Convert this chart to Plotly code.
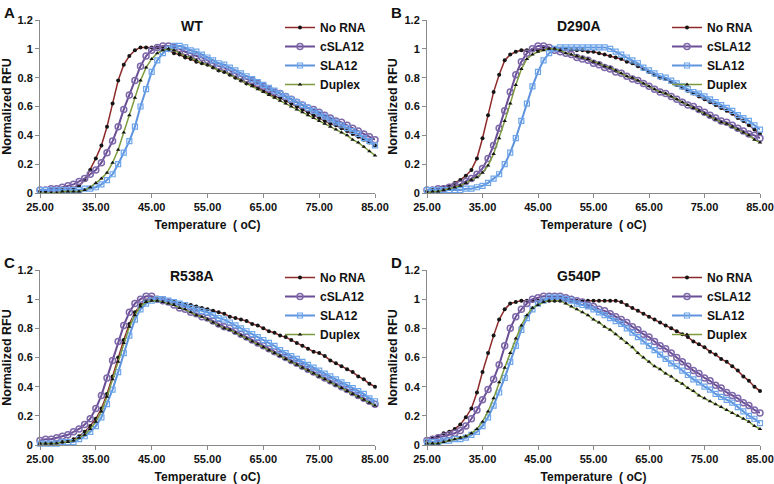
import plotly.graph_objects as go
from plotly.subplots import make_subplots

# temperature grid (oC), one reading per degree
temps = list(range(25, 86))

series_names = ["No RNA", "cSLA12", "SLA12", "Duplex"]
panel_titles = ["WT", "D290A", "R538A", "G540P"]
panel_letters = ["A", "B", "C", "D"]
x_ticks = [25, 35, 45, 55, 65, 75, 85]
y_ticks = [0, 0.2, 0.4, 0.6, 0.8, 1.0, 1.2]

# ---- panel A : WT ----
wt_norna = [.01, .01, .01, .02, .02, .02, .03, .05, .09, .16, .24, .33, .46, .62, .78, .89, .95, .99, 1.01, 1.01, 1.01, 1.01, 1.0, .99, .97, .96,
            .94, .93, .91, .90, .89, .87, .85, .84, .82, .80, .78, .76, .75, .73, .71, .69, .67, .66, .64, .62, .60, .58, .56, .54, .52, .50, .48, .47, .45, .43, .41, .39, .37, .35, .33]
wt_csla = [.02, .02, .03, .03, .04, .05, .06, .08, .10, .13, .16, .21, .28, .36, .46, .58, .68, .78, .88, .95, .99, 1.01, 1.02, 1.02, 1.01, 1.0,
           .98, .97, .95, .94, .92, .90, .88, .87, .85, .83, .81, .79, .78, .76, .74, .72, .70, .69, .67, .65, .63, .61, .59, .58, .56, .54, .52, .50, .49, .47, .45, .43, .41, .39, .37]
wt_sla = [.02, .02, .02, .02, .02, .02, .02, .02, .03, .03, .04, .06, .09, .13, .20, .28, .36, .46, .60, .72, .84, .92, .97, 1.0, 1.02, 1.02,
          1.01, .99, .98, .96, .94, .92, .90, .89, .87, .85, .83, .81, .79, .77, .75, .73, .71, .69, .67, .65, .63, .61, .59, .57, .55, .53, .51, .49, .47, .45, .43, .41, .38, .36, .33]
wt_duplex = [0, 0, 0, 0, .01, .01, .01, .01, .02, .04, .07, .10, .14, .21, .30, .42, .54, .66, .78, .87, .93, .97, .99, 1.0, .99, .97,
             .95, .94, .92, .90, .89, .87, .85, .84, .82, .80, .78, .76, .74, .72, .70, .68, .66, .64, .62, .60, .58, .56, .54, .52, .50, .48, .46, .44, .42, .40, .37, .35, .32, .29, .26]

# ---- panel B : D290A ----
d290_norna = [.01, .02, .03, .04, .05, .07, .09, .12, .16, .24, .38, .54, .70, .82, .92, .96, .98, .99, .99, .99, .99, 1.0, 1.0, 1.0, 1.0, 1.0,
              .99, .99, .99, .98, .98, .97, .96, .95, .94, .93, .91, .90, .88, .86, .84, .82, .80, .79, .77, .75, .73, .71, .69, .67, .65, .63, .61, .59, .57, .55, .52, .50, .47, .44, .41]
d290_csla = [.02, .02, .03, .03, .04, .05, .06, .08, .10, .13, .17, .24, .33, .45, .57, .70, .82, .91, .97, 1.0, 1.02, 1.02, 1.01, .99, .98, .97,
             .96, .94, .93, .92, .90, .89, .87, .86, .84, .83, .81, .79, .78, .76, .74, .72, .70, .69, .67, .65, .63, .61, .60, .58, .56, .54, .52, .50, .49, .47, .45, .43, .41, .40, .38]
d290_sla = [.02, .02, .02, .02, .02, .02, .02, .03, .03, .04, .05, .07, .10, .13, .20, .28, .38, .50, .62, .74, .84, .92, .97, 1.0, 1.01, 1.01,
            1.01, 1.01, 1.01, 1.01, 1.01, 1.01, 1.01, 1.0, .98, .96, .94, .92, .90, .87, .85, .83, .81, .80, .78, .76, .74, .72, .70, .69, .67, .65, .63, .61, .59, .57, .54, .52, .50, .47, .44]
d290_duplex = [0, .01, .01, .02, .03, .04, .05, .07, .09, .11, .14, .19, .27, .38, .50, .62, .75, .86, .93, .96, .98, .99, 1.0, 1.0, .99, .97,
               .96, .95, .94, .93, .91, .90, .88, .87, .85, .83, .81, .80, .78, .76, .74, .72, .70, .69, .67, .65, .63, .61, .59, .57, .55, .53, .51, .49, .48, .46, .44, .42, .40, .37, .35]

# ---- panel C : R538A ----
r538_norna = [.01, .01, .01, .02, .02, .03, .04, .06, .09, .13, .18, .25, .35, .47, .60, .72, .83, .91, .96, .99, 1.0, 1.0, .99, .99, .98, .97,
              .96, .96, .95, .94, .93, .92, .91, .90, .88, .87, .86, .85, .83, .82, .80, .78, .77, .75, .74, .72, .70, .68, .66, .64, .63, .61, .58, .56, .54, .52, .50, .47, .45, .42, .40]
r538_csla = [.03, .04, .04, .05, .06, .07, .09, .11, .14, .18, .25, .34, .46, .58, .71, .82, .91, .97, 1.0, 1.02, 1.02, 1.0, .99, .98, .96, .94,
             .93, .91, .90, .88, .87, .85, .83, .81, .80, .78, .76, .74, .72, .70, .68, .66, .64, .62, .60, .58, .56, .54, .52, .50, .48, .46, .44, .42, .40, .38, .36, .34, .32, .30, .28]
r538_sla = [.01, .01, .01, .01, .02, .02, .02, .04, .06, .09, .13, .19, .28, .38, .50, .63, .75, .86, .93, .97, .99, 1.0, 1.0, .99, .98, .97,
            .96, .94, .93, .92, .91, .89, .87, .86, .84, .82, .80, .78, .76, .74, .72, .70, .68, .65, .63, .61, .59, .57, .55, .53, .51, .49, .47, .45, .43, .41, .39, .37, .35, .32, .30]
r538_duplex = [.01, .01, .01, .01, .02, .02, .03, .05, .07, .11, .16, .23, .33, .45, .57, .70, .81, .89, .95, .98, .99, .99, .98, .97, .96, .94,
               .93, .91, .89, .88, .86, .84, .82, .80, .79, .77, .75, .73, .71, .69, .67, .65, .63, .61, .59, .57, .55, .53, .51, .49, .47, .45, .43, .41, .39, .37, .35, .33, .31, .29, .27]

# ---- panel D : G540P ----
g540_norna = [.03, .05, .06, .08, .09, .11, .14, .19, .25, .36, .50, .63, .75, .86, .93, .97, .98, .99, .99, .99, .99, .99, .99, .99, .99, .99,
              .99, .99, .99, .99, .99, .99, .99, .99, .99, .98, .96, .94, .92, .90, .88, .86, .84, .82, .80, .78, .76, .74, .71, .69, .67, .64, .62, .59, .57, .54, .51, .47, .44, .40, .37]
g540_csla = [.03, .04, .05, .06, .07, .08, .10, .13, .18, .24, .31, .38, .45, .55, .68, .80, .88, .93, .97, 1.0, 1.01, 1.02, 1.02, 1.02, 1.02, 1.01,
             1.0, .99, .98, .96, .95, .93, .92, .90, .88, .86, .84, .81, .79, .76, .74, .71, .68, .66, .63, .60, .57, .54, .51, .49, .46, .44, .41, .39, .36, .34, .32, .29, .27, .24, .22]
g540_sla = [.02, .02, .02, .03, .03, .04, .04, .05, .07, .09, .13, .19, .27, .36, .46, .57, .68, .79, .87, .93, .97, .99, 1.01, 1.01, 1.01, 1.0,
            .99, .97, .96, .95, .93, .91, .89, .87, .85, .83, .80, .77, .74, .71, .68, .65, .62, .59, .56, .54, .51, .48, .45, .43, .40, .38, .35, .33, .31, .29, .26, .23, .20, .18, .15]
g540_duplex = [.01, .01, .01, .02, .03, .04, .05, .06, .08, .11, .16, .23, .32, .43, .53, .63, .73, .82, .89, .94, .96, .98, .99, .99, .99, .97,
               .95, .93, .91, .89, .86, .84, .81, .79, .76, .73, .70, .67, .63, .60, .57, .54, .52, .49, .47, .44, .42, .39, .37, .34, .32, .30, .28, .26, .24, .22, .20, .18, .16, .13, .11]

panels = [
    [wt_norna, wt_csla, wt_sla, wt_duplex],
    [d290_norna, d290_csla, d290_sla, d290_duplex],
    [r538_norna, r538_csla, r538_sla, r538_duplex],
    [g540_norna, g540_csla, g540_sla, g540_duplex],
]

FONT = "Liberation Sans, Arial, sans-serif"

styles = [
    dict(line=dict(color="#8E2A2A", width=1.5),
         marker=dict(symbol="circle", size=4, color="#151515")),
    dict(line=dict(color="#6A4E96", width=2),
         marker=dict(symbol="circle-open", size=6, color="#7D68AA", line=dict(width=1.5))),
    dict(line=dict(color="#5E93DE", width=2),
         marker=dict(symbol="square-open", size=5, color="#6EA6EC", line=dict(width=1.2))),
    dict(line=dict(color="#7D9B3C", width=1.5),
         marker=dict(symbol="triangle-up", size=4, color="#151515")),
]

fig = make_subplots(rows=2, cols=2, horizontal_spacing=0.07, vertical_spacing=0.15)

# plot areas in pixels of the 774x484 page: (left, right, top, bottom)
W, H = 774, 484
boxes = [(40, 375, 20, 193), (427, 760, 20, 193), (40, 375, 270, 445), (427, 760, 270, 445)]
legend_keys = ["legend", "legend2", "legend3", "legend4"]

for p, data in enumerate(panels):
    r, c = p // 2 + 1, p % 2 + 1
    for s, vals in enumerate(data):
        fig.add_trace(go.Scatter(
            x=temps, y=vals, name=series_names[s], mode="lines+markers",
            line=styles[s]["line"], marker=styles[s]["marker"],
            legend=legend_keys[p], cliponaxis=False,
        ), row=r, col=c)

    left, right, top, bottom = boxes[p]
    xa = "xaxis" if p == 0 else "xaxis%d" % (p + 1)
    ya = "yaxis" if p == 0 else "yaxis%d" % (p + 1)
    fig.layout[xa].update(domain=[left / W, right / W])
    fig.layout[ya].update(domain=[1 - bottom / H, 1 - top / H])

    fig.layout[legend_keys[p]] = dict(
        x=(left + 240) / W, y=1 - (top - 7) / H, xanchor="left", yanchor="top",
        bgcolor="rgba(0,0,0,0)", itemwidth=30, tracegroupgap=0,
        font=dict(family=FONT, size=12, color="#111", weight="bold"),
    )

    fig.add_annotation(text=panel_titles[p], x=(left + 152) / W, y=1 - (top + 6) / H,
                       xref="paper", yref="paper", showarrow=False,
                       xanchor="center", yanchor="middle",
                       font=dict(family=FONT, size=14, color="#111", weight="bold"))
    fig.add_annotation(text=panel_letters[p], x=(left - 38) / W, y=1 - (top - 18) / H,
                       xref="paper", yref="paper", showarrow=False, xanchor="left", yanchor="top",
                       font=dict(family=FONT, size=15, color="#111", weight="bold"))

fig.update_xaxes(range=[25, 85], tickvals=x_ticks, ticktext=["%.2f" % t for t in x_ticks],
                 showgrid=False, zeroline=False, showline=True, linecolor="#8a8a8a", linewidth=1,
                 ticks="outside", ticklen=4, tickcolor="#8a8a8a", automargin=False,
                 tickfont=dict(family=FONT, size=11, color="#111", weight="bold"),
                 title=dict(text="Temperature  ( oC)", standoff=8,
                            font=dict(family=FONT, size=12, color="#111", weight="bold")))
fig.update_yaxes(range=[0, 1.2], tickvals=y_ticks, ticktext=["0", "0.2", "0.4", "0.6", "0.8", "1", "1.2"],
                 showgrid=False, zeroline=False, showline=True, linecolor="#8a8a8a", linewidth=1,
                 ticks="outside", ticklen=4, tickcolor="#8a8a8a", automargin=False,
                 tickfont=dict(family=FONT, size=11, color="#111", weight="bold"),
                 title=dict(text="Normalized RFU", standoff=4,
                            font=dict(family=FONT, size=12.5, color="#111", weight="bold")))

fig.update_layout(width=W, height=H, margin=dict(l=0, r=0, t=0, b=0),
                  paper_bgcolor="white", plot_bgcolor="white", showlegend=True)

# the page body keeps the browser's default 8px margin; drop it so the figure fills the window
fig.write_html("out.html", config={"displayModeBar": False},
               post_script="document.body.style.margin='0';")
